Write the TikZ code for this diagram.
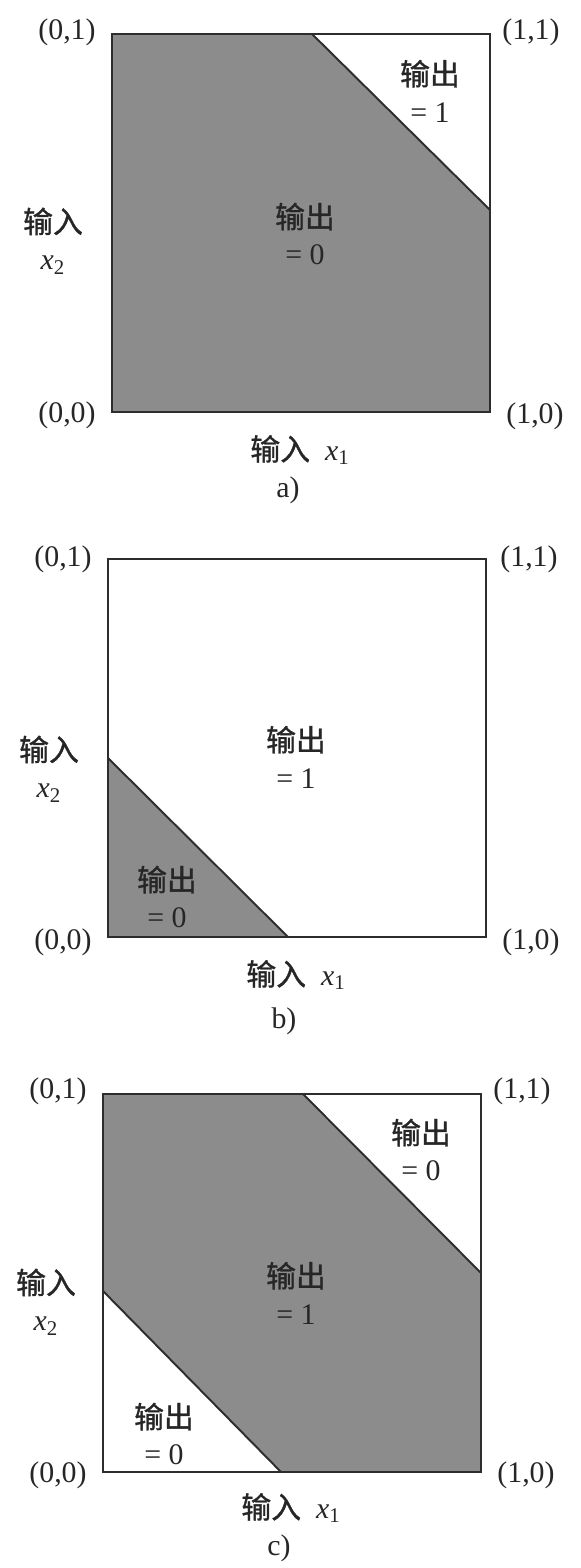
\documentclass[tikz,border=0pt]{standalone}
\usepackage{fontspec}
\setmainfont{Liberation Serif}
\newfontfamily\cjk[FakeBold=1]{Noto Sans CJK SC}

\definecolor{areagray}{RGB}{140,140,140}
\definecolor{edge}{RGB}{45,45,45}
\newcommand{\lblfont}{\fontsize{17}{21}\selectfont}
\newcommand{\xin}[1]{\textit{x}\textsubscript{#1}}

\begin{document}
\begin{tikzpicture}[x=0.02cm, y=0.02cm,
  lbl/.style={font=\lblfont, align=center, inner sep=0pt, text=black!85},
  frame/.style={draw=edge, line width=1.1pt},
  cut/.style={draw=edge, line width=1.1pt}]

\def\S{378}   % side of a square
\def\dx{45}   % corner labels, away from the square

\useasboundingbox (0,0) rectangle (581,1568);

% ---- a)
\begin{scope}[shift={(112,1156)}]
\coordinate (aT) at (200,\S);
\coordinate (aR) at (\S,202);
\fill[areagray] (0,0) -- (0,\S) -- (aT) -- (aR) -- (\S,0) -- cycle;
\draw[cut] (aT) -- (aR);
\draw[frame] (0,0) rectangle (\S,\S);

\node[lbl] (a01) at (-\dx,\S+2)    {(0,1)};
\node[lbl] (a11) at (\S+\dx-4,\S+2) {(1,1)};
\node[lbl] (a00) at (-\dx,-3)      {(0,0)};
\node[lbl] (a10) at (\S+\dx,-4)    {(1,0)};

\node[lbl] (aout1) at (318,321) {{\cjk 输出}\\= 1};
\node[lbl] (aout0) at (193,178) {{\cjk 输出}\\= 0};

\node[lbl] (ax2) at (-59,171) {{\cjk 输入}\\\xin{2}};
\node[lbl] (ax1) at (188,-38) {{\cjk 输入}\ \ \xin{1}};
\node[lbl] (acap) at (176,-78) {a)};
\end{scope}

% ---- b)
\begin{scope}[shift={(108,631)}]
\coordinate (bL) at (0,179);
\coordinate (bB) at (180,0);
\fill[areagray] (0,0) -- (bL) -- (bB) -- cycle;
\draw[cut] (bL) -- (bB);
\draw[frame] (0,0) rectangle (\S,\S);

\node[lbl] (b01) at (-\dx,\S)      {(0,1)};
\node[lbl] (b11) at (\S+\dx-2,\S)  {(1,1)};
\node[lbl] (b00) at (-\dx,-5)      {(0,0)};
\node[lbl] (b10) at (\S+\dx,-5)    {(1,0)};

\node[lbl] (bout1) at (188,180) {{\cjk 输出}\\= 1};
\node[lbl] (bout0) at (59,40)   {{\cjk 输出}\\= 0};

\node[lbl] (bx2) at (-59,168) {{\cjk 输入}\\\xin{2}};
\node[lbl] (bx1) at (188,-38) {{\cjk 输入}\ \ \xin{1}};
\node[lbl] (bcap) at (176,-84) {b)};
\end{scope}

% ---- c)
\begin{scope}[shift={(103,96)}]
\coordinate (cT) at (200,\S);
\coordinate (cR) at (\S,199);
\coordinate (cL) at (0,181);
\coordinate (cB) at (178,0);
\fill[areagray] (cL) -- (0,\S) -- (cT) -- (cR) -- (\S,0) -- (cB) -- cycle;
\draw[cut] (cT) -- (cR);
\draw[cut] (cL) -- (cB);
\draw[frame] (0,0) rectangle (\S,\S);

\node[lbl] (c01) at (-\dx,\S+3)    {(0,1)};
\node[lbl] (c11) at (\S+\dx-4,\S+3) {(1,1)};
\node[lbl] (c00) at (-\dx,-3)      {(0,0)};
\node[lbl] (c10) at (\S+\dx,-3)    {(1,0)};

\node[lbl] (cout0u) at (318,322) {{\cjk 输出}\\= 0};
\node[lbl] (cout1)  at (193,179) {{\cjk 输出}\\= 1};
\node[lbl] (cout0l) at (61,38)   {{\cjk 输出}\\= 0};

\node[lbl] (cx2) at (-57,170) {{\cjk 输入}\\\xin{2}};
\node[lbl] (cx1) at (188,-36) {{\cjk 输入}\ \ \xin{1}};
\node[lbl] (ccap) at (176,-76) {c)};
\end{scope}

\end{tikzpicture}
\end{document}
